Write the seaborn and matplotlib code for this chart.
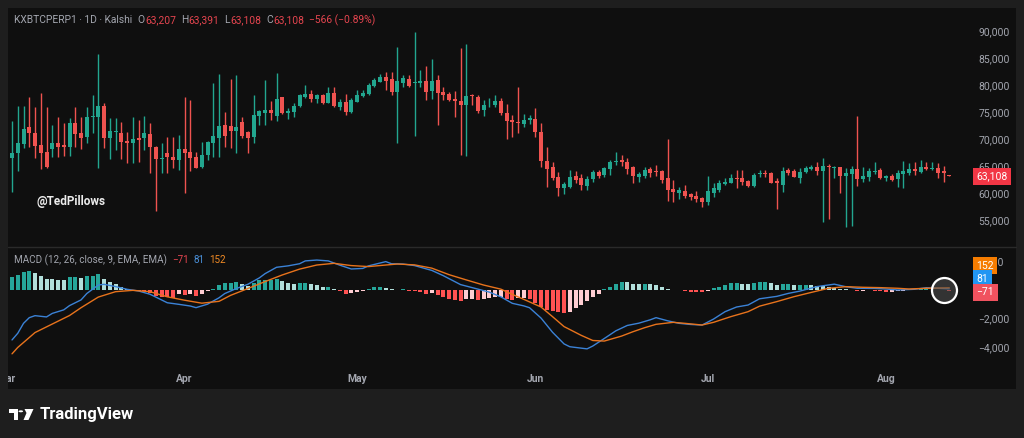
import numpy as np
import pandas as pd
import matplotlib
matplotlib.use("Agg")
import matplotlib.pyplot as plt
import matplotlib.transforms as mtransforms
from matplotlib.patches import Rectangle, Circle, Polygon
import seaborn as sns

# ================================
# Data (daily candles, Mar 2 -> Aug 12)
# ================================
dates = pd.date_range("2026-03-02", "2026-08-12", freq="D")

opens = [66540, 67350, 69070, 72220, 71050, 68890, 67530, 68210, 69320, 68950,
         68580, 72900, 71050, 70310, 74140, 74140, 76110, 70120, 71370, 71170,
         69690, 69200, 70120, 70120, 70870, 68580, 66230, 67350, 66600, 66110,
         68150, 67660, 66600, 64880, 67040, 69200, 70120, 72590, 72410, 71540,
         73210, 71360, 70430, 74260, 74880, 75370, 74320, 77720, 74750, 75060,
         76110, 77840, 78270, 77350, 78210, 76730, 78460, 75990, 76910, 75060,
         76910, 77960, 78330, 79820, 80620, 81420, 81050, 78770, 80310, 81110,
         80310, 80310, 80740, 78890, 80930, 78700, 78330, 77350, 77100, 76300,
         78150, 77840, 75370, 76050, 76300, 77100, 74750, 73520, 73210, 72780,
         73580, 73700, 71230, 65990, 64880, 63020, 60990, 61170, 63150, 62720,
         61360, 62590, 63950, 63330, 64440, 65800, 66050, 65800, 64880, 63020,
         63150, 64380, 64140, 64140, 62720, 60740, 60060, 60370, 59820, 59510,
         59010, 58390, 60060, 60560, 61600, 61910, 62720, 62720, 62220, 61360,
         63460, 63640, 63640, 62280, 61480, 64260, 64140, 62720, 63950, 64510,
         64880, 64140, 65000, 64690, 64750, 63210, 63460, 64380, 62590, 63020,
         63950, 64260, 62720, 63210, 62590, 63520, 63640, 64380, 63950, 64750,
         64440, 64570, 64140, 63207]
highs = [73400, 76110, 76110, 77720, 75990, 78460, 75990, 72590, 74010, 73030,
         73830, 75990, 74140, 75990, 78150, 85680, 76610, 73830, 73830, 73210,
         71360, 74140, 73500, 74260, 73030, 68700, 69320, 70430, 70430, 70740,
         77720, 77220, 67660, 69510, 69700, 80310, 82040, 75060, 81050, 81850,
         74140, 71500, 78150, 75370, 80930, 77100, 82160, 77840, 75680, 76610,
         78330, 80000, 79070, 78270, 78330, 79690, 79570, 77350, 78330, 77530,
         79070, 79070, 80310, 81230, 82040, 82470, 82470, 87100, 81850, 81850,
         89750, 82780, 83580, 84880, 81850, 79570, 78770, 78950, 86790, 87590,
         78270, 78150, 77220, 77660, 78090, 77530, 76480, 74440, 79690, 74570,
         74440, 75680, 73030, 68580, 65800, 63950, 62100, 64260, 64140, 63520,
         63150, 64260, 64260, 64880, 66110, 67590, 67040, 66420, 65060, 63950,
         64880, 64880, 65190, 64260, 69940, 62410, 61050, 61480, 60060, 60430,
         59320, 63150, 61910, 62410, 62720, 63460, 64260, 64260, 62410, 63640,
         64260, 64260, 63950, 62720, 64880, 64570, 64380, 64570, 65000, 65190,
         65680, 66420, 65370, 65000, 64880, 64570, 65000, 74260, 64880, 64570,
         65800, 64570, 63330, 63520, 64260, 65930, 65490, 65800, 66110, 65800,
         65800, 65490, 65000, 63391]
lows = [60240, 64140, 68270, 68580, 66420, 64380, 64570, 66730, 66730, 66850,
        66850, 68580, 68090, 69200, 71050, 64570, 68270, 66230, 67960, 66230,
        65490, 65620, 65740, 67960, 63640, 56730, 63640, 63760, 64570, 64260,
        59940, 64140, 64570, 64700, 66200, 66730, 66600, 68460, 68390, 67470,
        70120, 67470, 69200, 72590, 72590, 73520, 73400, 74600, 73640, 74140,
        75990, 77530, 76910, 76730, 76480, 76600, 75870, 75370, 74440, 74880,
        76800, 77840, 78150, 79700, 80500, 79070, 78150, 69200, 79570, 79700,
        70560, 79570, 77220, 77350, 72590, 77220, 77040, 74140, 67040, 66850,
        76300, 74750, 74260, 75860, 75860, 74440, 69940, 70430, 71050, 72160,
        72780, 70430, 64880, 61170, 62410, 59440, 59820, 60860, 61790, 60560,
        60560, 61980, 62720, 63020, 63330, 65190, 65060, 63520, 61910, 62100,
        62720, 63020, 63150, 61910, 58580, 58390, 58890, 59010, 58700, 58390,
        57350, 57780, 59320, 60250, 61480, 61790, 60860, 61480, 61050, 61170,
        63020, 63020, 61790, 57040, 60250, 63330, 62900, 61790, 63770, 64260,
        63330, 54690, 55120, 62720, 60060, 53770, 53890, 61300, 62100, 62280,
        63520, 62530, 62280, 62220, 61170, 60860, 63330, 63330, 63770, 64260,
        64200, 62720, 62100, 63108]
closes = [67470, 69200, 71910, 71170, 68760, 67470, 64750, 69320, 68580, 68580,
          72900, 70930, 70120, 74140, 74260, 76110, 70120, 71480, 71560, 69510,
          69200, 70000, 69750, 71170, 68580, 66230, 66420, 66730, 66110, 68150,
          67470, 66420, 64690, 67040, 69400, 70560, 72410, 70560, 71480, 72280,
          70560, 70120, 74440, 75190, 75370, 74750, 77470, 74750, 75190, 76110,
          78150, 78270, 77350, 78150, 76610, 78460, 76110, 76910, 75060, 77220,
          78150, 78580, 80000, 80930, 81420, 80800, 78770, 80740, 81230, 79880,
          80560, 80740, 78770, 80740, 78580, 78150, 77220, 77100, 76300, 77960,
          77960, 75250, 76300, 76110, 77100, 74750, 73400, 73210, 72900, 73520,
          73830, 71230, 65990, 64380, 62840, 60990, 61600, 63020, 62410, 61480,
          62590, 63950, 63150, 64570, 65800, 65990, 65680, 64440, 63210, 63520,
          64260, 63770, 63950, 62410, 60560, 60120, 60560, 59440, 59200, 58830,
          58390, 60430, 60860, 61790, 62100, 62840, 62530, 61980, 61300, 63330,
          63640, 63460, 61910, 61790, 64140, 63770, 63020, 63950, 64570, 64880,
          64140, 65060, 64750, 64880, 63210, 63770, 64380, 62530, 63150, 64070,
          64140, 62720, 63150, 62410, 63640, 64070, 64380, 64140, 64880, 64440,
          64570, 63640, 63674, 63108]

# MACD histogram, one value per day
macd_hist = [940, 1060, 1290, 1340, 1220, 1010, 750, 740, 700, 690,
             890, 900, 820, 990, 1010, 1130, 750, 540, 400, 190,
             50, -20, -50, -90, -230, -420, -520, -525, -540, -280,
             -350, -280, -420, -280, -70, 70, 350, 470, 520, 590,
             420, 280, 520, 700, 705, 710, 780, 630, 470, 420,
             470, 480, 420, 350, 235, 240, 50, -50, -280, -190,
             -120, -70, 50, 190, 235, 165, 70, 25, 50, -70,
             -75, -120, -280, -235, -350, -520, -660, -700, -750, -660,
             -630, -700, -630, -590, -520, -470, -630, -705, -590, -540,
             -635, -940, -1175, -1410, -1480, -1530, -1645, -1530, -1290, -1060,
             -775, -520, -305, 70, 235, 445, 590, 540, 420, 400,
             400, 395, 350, 235, 70, -10, -25, -70, -120, -120,
             -125, -50, 120, 210, 350, 470, 490, 445, 420, 490,
             540, 565, 470, 350, 400, 410, 320, 335, 340, 320,
             305, 260, 210, 140, 95, 45, 25, -70, -50, -25,
             -45, -95, -140, -120, -70, -45, 10, 25, 45, 50,
             30, -10, -30, -71]

# MACD and signal lines, read at these day numbers
macd_day = [0, 1, 2, 3, 4, 6, 7, 9, 10, 12, 13, 15, 16, 18, 20, 22, 24, 26, 27, 29,
            31, 32, 34, 36, 37, 39, 41, 43, 44, 46, 48, 50, 51, 53, 55, 57, 59, 61, 62, 65,
            66, 68, 70, 73, 75, 78, 80, 83, 85, 87, 89, 90, 92, 94, 96, 97, 100, 101, 103, 105,
            107, 109, 111, 112, 114, 116, 118, 120, 122, 124, 126, 128, 130, 133, 135, 137, 140, 143, 145, 147,
            150, 152, 154, 157, 159, 163]
macd_line = [-3520, -3050, -2350, -1950, -1810, -1900, -1650, -1400, -1100, -700,
             -250, 350, 400, 240, 50, -70, -300, -700, -900, -1010,
             -1130, -1245, -1000, -550, -250, 100, 400, 850, 1150, 1600,
             1700, 1850, 2050, 2110, 2050, 1750, 1480, 1520, 1700, 2000,
             1850, 1830, 1720, 1380, 1010, 380, 170, -150, -480, -940,
             -1120, -1250, -1980, -2980, -3800, -4000, -4150, -3950, -3420, -2880,
             -2500, -2340, -2100, -1950, -2170, -2350, -2430, -2470, -2050, -1530,
             -1200, -1060, -620, -450, -240, -80, 240, 410, 230, 120,
             110, 70, 0, 50, 160, 81]
signal_day = [0, 1, 4, 7, 10, 12, 15, 18, 21, 24, 27, 30, 33, 36, 38, 41, 44, 47, 50, 53,
              56, 59, 62, 65, 67, 70, 73, 76, 79, 82, 85, 87, 89, 92, 94, 96, 99, 101, 103, 106,
              108, 110, 112, 115, 117, 120, 122, 125, 128, 130, 133, 136, 139, 142, 145, 148, 151, 154, 156, 159,
              163]
signal_line = [-4500, -4050, -3000, -2400, -1800, -1250, -500, -120, -25, -120,
               -480, -720, -930, -800, -380, 100, 590, 1060, 1470, 1760,
               1880, 1720, 1650, 1760, 1830, 1770, 1540, 1080, 710, 350,
               60, -310, -660, -1200, -1880, -2580, -3200, -3560, -3600, -3250,
               -2940, -2660, -2420, -2280, -2350, -2470, -2280, -1880, -1530, -1140,
               -820, -470, -170, 120, 235, 190, 165, 120, 70, 120,
               152]

price_ticks = [55000, 60000, 65000, 70000, 75000, 80000, 85000, 90000]
macd_ticks = [2000, -2000, -4000]

# ================================
# Colours
# ================================
UP, DOWN = "#22a68f", "#ef5350"
GRAY = "#a3a6af"
RED_T = "#e5454f"
BG, PANEL = "#1e1e1e", "#0f0f0f"

W, H = 1024, 438
sns.set_theme(style="dark")
plt.rcParams["font.family"] = ["Roboto", "DejaVu Sans"]
plt.rcParams["axes.unicode_minus"] = True


def box(x0, y0, x1, y1):
    # pixel box (top-left origin) -> figure fraction rect
    return [x0 / W, 1 - y1 / H, (x1 - x0) / W, (y1 - y0) / H]


def fpt(x, y):
    return (x / W, 1 - y / H)


fig = plt.figure(figsize=(W / 100, H / 100), dpi=100, facecolor=BG)
fig.patches.append(Rectangle(fpt(8, 389), 1008 / W, 381 / H, transform=fig.transFigure,
                             fc=PANEL, ec="none", zorder=-5))
renderer = fig.canvas.get_renderer()


def text_run(parts, x, y, size):
    # lay out coloured pieces one after the other (x, y in pixels from top-left)
    for s, cc, gap in parts:
        t = fig.text(x / W, 1 - y / H, s, ha="left", va="center", fontsize=size, color=cc)
        x = t.get_window_extent(renderer).x1 + gap


o = np.array(opens, float)
hi = np.array(highs, float)
lo = np.array(lows, float)
c = np.array(closes, float)
col = np.where(c >= o, UP, DOWN)
xmin = dates[0] - pd.Timedelta(days=0.7)
xmax = dates[0] + pd.Timedelta(days=166.6)

# ================================
# Price pane
# ================================
ax_p = fig.add_axes(box(8, 8, 970, 247))
ax_p.set_facecolor(PANEL)
ax_p.vlines(dates, lo, hi, colors=col, lw=1)
ax_p.bar(dates, np.maximum(np.abs(c - o), 150), bottom=np.minimum(o, c),
         width=0.7, color=col, lw=0)
ax_p.set_xlim(xmin, xmax)
ax_p.set_ylim(50000, 94260)
ax_p.yaxis.tick_right()
ax_p.set_yticks(price_ticks)
ax_p.set_yticklabels([f"{t:,}" for t in price_ticks])
ax_p.tick_params(axis="y", length=0, pad=6, labelsize=7.5, labelcolor=GRAY)
ax_p.set_xticks([])
ax_p.grid(False)
for s in ax_p.spines.values():
    s.set_visible(False)

blend_p = mtransforms.blended_transform_factory(ax_p.transAxes, ax_p.transData)
ax_p.text(1.0065, closes[-1], f"{closes[-1]:,}", transform=blend_p, ha="left", va="center",
          fontsize=7.5, color="white", zorder=10, clip_on=False,
          bbox=dict(boxstyle="square,pad=0.35", fc="#f23645", ec="none"))
ax_p.text(0.03, 0.19, "@TedPillows", transform=ax_p.transAxes, ha="left", va="center",
          fontsize=8.5, fontweight="bold", color="#ececec")

# ================================
# MACD pane
# ================================
hist = np.array(macd_hist, float)
prev = np.concatenate([[hist[0]], hist[:-1]])
hcol = np.where(hist >= 0, np.where(hist >= prev, "#26a69a", "#b2dfdb"),
                np.where(hist <= prev, "#ff5252", "#ffcdd2"))

ax_m = fig.add_axes(box(8, 247, 970, 370))
ax_m.set_facecolor(PANEL)
ax_m.bar(dates, hist, width=0.7, color=hcol, lw=0)
sns.lineplot(x=dates[macd_day], y=macd_line, color="#3b82d6", lw=1, ax=ax_m)
sns.lineplot(x=dates[signal_day], y=signal_line, color="#e8731c", lw=1, ax=ax_m)
ax_m.plot([dates[162]], [0], "o", ms=18, mfc=(0.32, 0.32, 0.32, 0.55), mec="white",
          mew=1.6, zorder=6)
ax_m.set_xlim(xmin, xmax)
ax_m.set_ylim(-5640, 3030)
ax_m.yaxis.tick_right()
ax_m.set_yticks(macd_ticks)
ax_m.set_yticklabels([f"{t:,}".replace("-", "\u2212") for t in macd_ticks])
ax_m.tick_params(axis="y", length=0, pad=6, labelsize=7.5, labelcolor=GRAY)
ax_m.set_xticks([])
ax_m.set_xlabel("")
ax_m.set_ylabel("")
ax_m.grid(False)
for s in ax_m.spines.values():
    s.set_visible(False)

blend_m = mtransforms.blended_transform_factory(ax_m.transAxes, ax_m.transData)
for val, fc, dy in [(signal_line[-1], "#f57c00", 22), (macd_line[-1], "#2196f3", 10),
                    (macd_hist[-1], "#f0525f", -1.5)]:
    ax_m.annotate(f"{val}".replace("-", "\u2212"), xy=(1.0065, val), xycoords=blend_m,
                  xytext=(0, dy), textcoords="offset pixels", ha="left", va="center",
                  fontsize=7.5, color="white", annotation_clip=False, zorder=10,
                  bbox=dict(boxstyle="square,pad=0.35", fc=fc, ec="none"))

# ================================
# Date strip
# ================================
ax_d = fig.add_axes(box(8, 370, 970, 389))
ax_d.set_xlim(xmin, xmax)
ax_d.set_ylim(0, 1)
ax_d.axis("off")
for m in pd.date_range("2026-03-01", dates[-1], freq="MS"):
    ax_d.text(m, 0.5, m.strftime("%b"), ha="center", va="center", fontsize=7.5,
              fontweight="bold", color=GRAY, clip_on=True)

# pane divider
fig.add_artist(plt.Line2D([8 / W, 1016 / W], [1 - 247 / H] * 2, color="#2a2a2a", lw=1,
                          transform=fig.transFigure))

# ================================
# Header texts
# ================================
text_run([("KXBTCPERP1 \u00b7 1D \u00b7 Kalshi", GRAY, 5), ("O", GRAY, 0.5), ("63,207", RED_T, 5),
          ("H", GRAY, 0.5), ("63,391", RED_T, 5), ("L", GRAY, 0.5), ("63,108", RED_T, 5),
          ("C", GRAY, 0.5), ("63,108", RED_T, 5), ("\u2212566 (\u22120.89%)", RED_T, 0)],
         14, 20, 7.4)
text_run([("MACD (12, 26, close, 9, EMA, EMA)", GRAY, 5), ("\u221271", RED_T, 5),
          ("81", "#4a90d9", 5), ("152", "#f08a24", 0)], 14, 260, 7.1)

# TradingView logo
tf = fig.transFigure
fig.patches.append(Polygon([fpt(9, 409), fpt(17.5, 409), fpt(17.5, 420), fpt(13.5, 420),
                            fpt(13.5, 413), fpt(9, 413)], closed=True, transform=tf,
                           fc="white", ec="none"))
fig.patches.append(Circle(fpt(20.8, 411.3), 2.3 / W, transform=tf, fc="white", ec="none"))
fig.patches.append(Polygon([fpt(24.5, 409), fpt(33.5, 409), fpt(28.5, 420), fpt(23.5, 420),
                            fpt(26.5, 413)], closed=True, transform=tf, fc="white", ec="none"))
fig.text(40 / W, 1 - 414 / H, "TradingView", ha="left", va="center", fontsize=12,
         fontweight="bold", color="white")

fig.savefig("out.png", dpi=100, facecolor=BG)
